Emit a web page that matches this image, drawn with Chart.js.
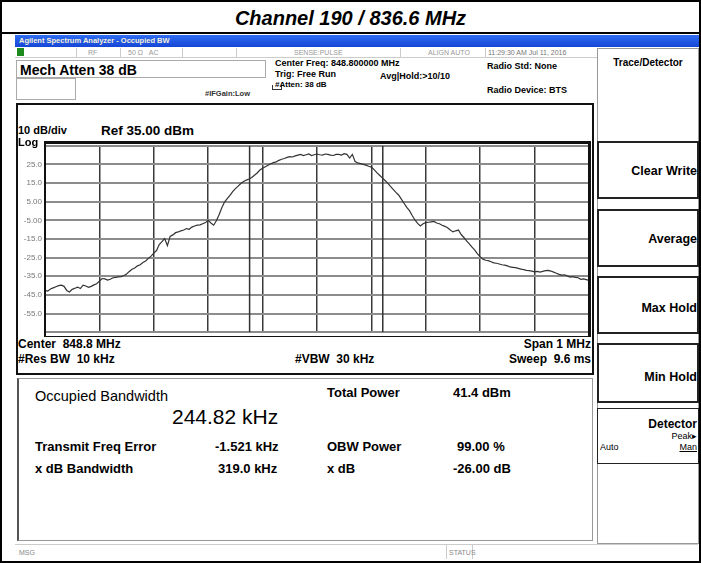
<!DOCTYPE html>
<html><head><meta charset="utf-8">
<script src="https://cdn.jsdelivr.net/npm/chart.js@4/dist/chart.umd.min.js"></script>
<style>
body{margin:0;width:701px;height:563px;overflow:hidden;background:#fff;font-family:"Liberation Sans",Arial,sans-serif;position:relative;}
.a{position:absolute;white-space:nowrap;line-height:1;}
.b{font-weight:bold;}
.box{position:absolute;box-sizing:border-box;}
.g{color:#999;font-size:7px;}
</style></head><body>
<div class="box" style="left:0;top:0;width:701px;height:563px;border:2px solid #000;"></div>
<div class="a b" style="left:0;width:701px;top:8px;text-align:center;font-size:20px;font-style:italic;">Channel 190 / 836.6 MHz</div>
<div class="box" style="left:0;top:32px;width:701px;height:2px;background:#000;"></div>
<!-- blue title bar -->
<div class="box" style="left:15px;top:35px;width:684px;height:12px;background:linear-gradient(#2f6df2,#1546d6);"></div>
<div class="a b" style="left:19px;top:37px;font-size:7.5px;color:#f4f0d8;">Agilent Spectrum Analyzer - Occupied BW</div>
<!-- status row -->
<div class="box" style="left:15px;top:47px;width:583px;height:11px;border-bottom:1px solid #ccc;"></div>
<div class="box" style="left:17px;top:48px;width:7px;height:8px;background:#1c8a1c;"></div>
<div class="box" style="left:76px;top:48px;width:1px;height:9px;background:#ccc;"></div>
<div class="box" style="left:120px;top:48px;width:1px;height:9px;background:#ccc;"></div>
<div class="box" style="left:182px;top:48px;width:1px;height:9px;background:#ccc;"></div>
<div class="box" style="left:236px;top:48px;width:1px;height:9px;background:#ccc;"></div>
<div class="box" style="left:400px;top:48px;width:1px;height:9px;background:#ccc;"></div>
<div class="box" style="left:485px;top:48px;width:1px;height:9px;background:#ccc;"></div>
<div class="a g" style="left:88px;top:49px;">RF</div>
<div class="a g" style="left:128px;top:49px;">50 Ω&nbsp;&nbsp;&nbsp;AC</div>
<div class="a g" style="left:294px;top:49px;">SENSE:PULSE</div>
<div class="a g" style="left:428px;top:49px;">ALIGN AUTO</div>
<div class="a g" style="left:488px;top:49px;color:#777;">11:29:30 AM Jul 11, 2016</div>
<!-- header info -->
<div class="box" style="left:16px;top:60px;width:250px;height:18px;border:1px solid #aaa;"></div>
<div class="a b" style="left:20px;top:63px;font-size:14px;">Mech Atten 38 dB</div>
<div class="box" style="left:16px;top:78px;width:60px;height:22px;border:1px solid #aaa;"></div>
<div class="a b" style="left:205px;top:90px;font-size:7.5px;color:#333;">#IFGain:Low</div>
<div class="box" style="left:272px;top:85px;width:10px;height:5px;border:1px solid #333;border-top:none;"></div>
<div class="a b" style="left:275px;top:59px;font-size:9px;">Center Freq: 848.800000 MHz</div>
<div class="a b" style="left:275px;top:70px;font-size:9px;">Trig: Free Run</div>
<div class="a b" style="left:275px;top:81px;font-size:8px;">#Atten: 38 dB</div>
<div class="a b" style="left:380px;top:72px;font-size:9px;">Avg|Hold:&gt;10/10</div>
<div class="a b" style="left:487px;top:62px;font-size:9px;">Radio Std: None</div>
<div class="a b" style="left:487px;top:86px;font-size:9px;">Radio Device: BTS</div>
<!-- right panel -->
<div class="box" style="left:597px;top:48px;width:102px;height:496px;border:1px solid #999;"></div>
<div class="a b" style="left:597px;width:102px;top:58px;text-align:center;font-size:10px;">Trace/Detector</div>
<div class="box" style="left:597px;top:141px;width:102px;height:58px;border:2px solid #222;"></div>
<div class="a b" style="right:4px;top:165px;font-size:12.5px;">Clear Write</div>
<div class="box" style="left:597px;top:209px;width:102px;height:58px;border:2px solid #222;"></div>
<div class="a b" style="right:4px;top:233px;font-size:12.5px;">Average</div>
<div class="box" style="left:597px;top:276px;width:102px;height:58px;border:2px solid #222;"></div>
<div class="a b" style="right:4px;top:302px;font-size:12.5px;">Max Hold</div>
<div class="box" style="left:597px;top:343px;width:102px;height:60px;border:2px solid #222;"></div>
<div class="a b" style="right:4px;top:371px;font-size:12.5px;">Min Hold</div>
<div class="box" style="left:597px;top:408px;width:102px;height:56px;border:1px solid #222;"></div>
<div class="a b" style="right:4px;top:418px;font-size:12px;">Detector</div>
<div class="a" style="right:4px;top:432px;font-size:9px;">Peak▸</div>
<div class="a" style="left:600px;top:443px;font-size:9px;">Auto</div>
<div class="a" style="right:4px;top:443px;font-size:9px;text-decoration:underline;">Man</div>
<!-- plot frame -->
<div class="box" style="left:16px;top:103px;width:578px;height:272px;border:2px solid #111;"></div>
<div class="a b" style="left:18px;top:125px;font-size:11px;">10 dB/div</div>
<div class="a b" style="left:101px;top:124px;font-size:13.5px;">Ref 35.00 dBm</div>
<div class="a b" style="left:18px;top:137px;font-size:11px;z-index:3;">Log</div>
<div style="position:absolute;left:17px;top:138px;width:575px;height:202px;z-index:2;"><canvas id="c" width="575" height="202"></canvas></div>
<div class="box" style="left:44px;top:141px;width:547px;height:196px;border-top:3px solid #111;border-left:2px solid #111;border-right:3px solid #111;border-bottom:1px solid #111;z-index:3;"></div>
<div class="a b" style="left:18px;top:338px;font-size:12px;">Center&nbsp; 848.8 MHz</div>
<div class="a b" style="right:110px;top:338px;font-size:12px;">Span 1 MHz</div>
<div class="a b" style="left:18px;top:353px;font-size:12px;">#Res BW&nbsp; 10 kHz</div>
<div class="a b" style="left:295px;top:353px;font-size:12px;">#VBW&nbsp; 30 kHz</div>
<div class="a b" style="right:110px;top:353px;font-size:12px;">Sweep&nbsp; 9.6 ms</div>
<!-- measurement box -->
<div class="box" style="left:17px;top:378px;width:576px;height:163px;border:1px solid #999;border-left:2px solid #555;"></div>
<div class="a" style="left:35px;top:389px;font-size:14.5px;">Occupied Bandwidth</div>
<div class="a" style="left:172px;top:406px;font-size:21px;">244.82 kHz</div>
<div class="a b" style="left:327px;top:386px;font-size:13px;">Total Power</div>
<div class="a b" style="left:453px;top:386px;font-size:13px;">41.4 dBm</div>
<div class="a b" style="left:35px;top:440px;font-size:13px;">Transmit Freq Error</div>
<div class="a b" style="left:215px;top:440px;font-size:13px;">-1.521 kHz</div>
<div class="a b" style="left:327px;top:440px;font-size:13px;">OBW Power</div>
<div class="a b" style="left:457px;top:440px;font-size:13px;">99.00 %</div>
<div class="a b" style="left:35px;top:462px;font-size:13px;">x dB Bandwidth</div>
<div class="a b" style="left:218px;top:462px;font-size:13px;">319.0 kHz</div>
<div class="a b" style="left:327px;top:462px;font-size:13px;">x dB</div>
<div class="a b" style="left:453px;top:462px;font-size:13px;">-26.00 dB</div>
<!-- bottom status -->
<div class="box" style="left:15px;top:544px;width:683px;height:15px;border-top:1px solid #ccc;"></div>
<div class="box" style="left:446px;top:545px;width:1px;height:14px;background:#ccc;"></div>
<div class="box" style="left:472px;top:545px;width:1px;height:14px;background:#ccc;"></div>
<div class="a g" style="left:19px;top:549px;color:#888;">MSG</div>
<div class="a g" style="left:449px;top:549px;color:#888;">STATUS</div>
<script>
// frequency offset from centre 848.8 MHz, kHz
const freqOffsetsKHz = [
-500,-495,-490,-485,-480,-475,-470,-465,-460,-455,-450,-445,-440,-435,-430,-425,-420,-415,-410,-405,
-400,-395,-390,-385,-380,-375,-370,-365,-360,-355,-350,-345,-340,-335,-330,-325,-320,-315,-310,-305,
-300,-295,-290,-285,-280,-275,-270,-265,-260,-255,-250,-245,-240,-235,-230,-225,-220,-215,-210,-205,
-200,-195,-190,-185,-180,-175,-170,-165,-160,-155,-150,-145,-140,-135,-130,-125,-120,-115,-110,-105,
-100,-95,-90,-85,-80,-75,-70,-65,-60,-55,-50,-45,-40,-35,-30,-25,-20,-15,-10,-5,
0,5,10,15,20,25,30,35,40,45,50,55,60,65,70,75,80,85,90,95,
100,105,110,115,120,125,130,135,140,145,150,155,160,165,170,175,180,185,190,195,
200,205,210,215,220,225,230,235,240,245,250,255,260,265,270,275,280,285,290,295,
300,305,310,315,320,325,330,335,340,345,350,355,360,365,370,375,380,385,390,395,
400,405,410,415,420,425,430,435,440,445,450,455,460,465,470,475,480,485,490,495,
500];
const traceDbm = [
-42.5,-43.0,-41.8,-41.2,-40.6,-40.0,-39.8,-40.4,-42.6,-43.4,-42.0,-41.4,-40.8,-41.6,-39.8,-40.2,-40.9,-40.4,-39.6,-39.0,
-37.6,-36.2,-36.4,-37.0,-36.6,-35.8,-35.6,-35.3,-35.2,-34.6,-33.8,-32.4,-31.2,-30.6,-29.4,-28.8,-27.6,-26.8,-25.4,-24.2,
-22.6,-21.2,-18.0,-16.4,-14.8,-18.6,-13.6,-12.8,-11.6,-11.2,-10.6,-10.2,-9.4,-9.8,-8.6,-8.0,-7.6,-7.4,-6.8,-6.2,
-5.0,-6.4,-7.6,-5.2,-2.0,1.8,4.8,6.6,8.4,10.4,12.0,13.4,14.8,15.8,16.6,17.2,18.0,19.2,20.4,22.0,
23.0,23.8,24.6,25.4,26.0,26.4,27.2,27.8,28.2,28.8,29.2,29.0,29.6,30.0,30.4,29.8,30.2,30.6,29.8,30.2,
30.6,30.2,30.0,30.6,30.4,30.0,29.8,30.4,30.4,30.0,30.8,30.4,28.4,30.4,26.6,25.8,25.4,25.0,24.6,24.0,
23.6,22.2,20.6,19.2,17.8,16.4,15.0,13.2,11.6,10.0,8.6,6.4,4.2,2.0,0.2,-2.4,-4.8,-6.6,-8.0,-6.8,
-6.2,-6.0,-5.8,-5.6,-6.4,-6.8,-7.6,-8.2,-9.0,-10.2,-11.2,-10.6,-10.2,-12.6,-14.2,-16.0,-17.6,-19.4,-21.0,-23.0,
-24.6,-25.8,-26.4,-26.6,-27.2,-27.8,-28.0,-28.4,-28.8,-29.0,-29.4,-30.0,-30.2,-30.4,-30.8,-31.2,-31.4,-31.8,-32.0,-32.2,
-32.6,-32.4,-32.8,-32.4,-32.0,-31.8,-32.2,-32.8,-33.4,-34.0,-34.4,-34.2,-34.8,-35.4,-35.2,-35.6,-35.8,-36.6,-36.4,-36.8,
-37.2];
const obwMarkersKHz = [-123.9, 120.9];
const yTickValues = [35,25,15,5,-5,-15,-25,-35,-45,-55,-65];
const yTickLabels = ["","25.0","15.0","5.00","-5.00","-15.0","-25.0","-35.0","-45.0","-55.0",""];

const datasets = [{
  data: freqOffsetsKHz.map((f,i)=>({x:f,y:traceDbm[i]})),
  borderColor:'#333', borderWidth:1.2, pointRadius:0, tension:0
}];
obwMarkersKHz.forEach(m=>datasets.push({
  data:[{x:m,y:-65},{x:m,y:35}], borderColor:'#333', borderWidth:1.5, pointRadius:0
}));
new Chart(document.getElementById('c'),{
  type:'line',
  data:{datasets},
  options:{
    responsive:false, animation:false, devicePixelRatio:1,
    layout:{padding:{top:4,right:3,bottom:4,left:0}},
    plugins:{legend:{display:false},tooltip:{enabled:false}},
    scales:{
      x:{type:'linear',min:-500,max:500,
        ticks:{stepSize:100,display:false},
        grid:{color:'#3a3a3a',lineWidth:1.5,drawTicks:false},
        border:{display:false},
        afterFit:s=>{s.height=0;}},
      y:{type:'linear',min:-65,max:35,
        afterBuildTicks:s=>{s.ticks=yTickValues.map(v=>({value:v}));},
        ticks:{padding:3,color:'#777',font:{family:'Liberation Sans',size:8},
          callback:(v)=>{const i=yTickValues.indexOf(v);return i>=0?yTickLabels[i]:'';}},
        grid:{color:'#8c8c8c',lineWidth:2,drawTicks:false},
        border:{display:false},
        afterFit:s=>{s.width=28;}}
    }
  }
});
</script>
</body></html>
